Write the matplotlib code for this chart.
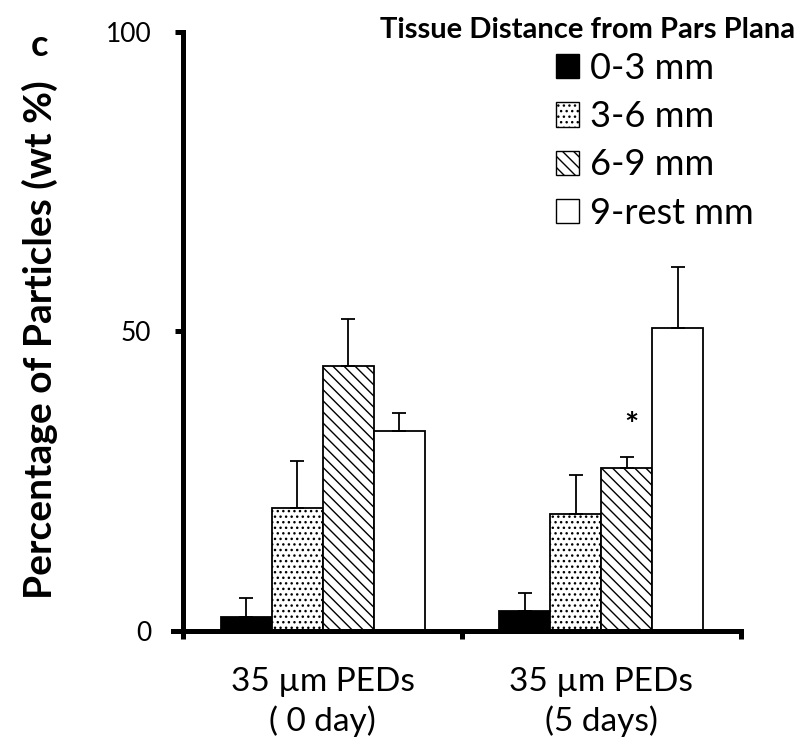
import matplotlib
matplotlib.use("Agg")
import matplotlib.pyplot as plt
from matplotlib.patches import Patch
import numpy as np

plt.rcParams['font.family'] = ['Lato', 'DejaVu Sans']
plt.rcParams['hatch.linewidth'] = 1.0

categories = ["35 \u00b5m PEDs\n( 0 day)", "35 \u00b5m PEDs\n(5 days)"]
series = ["0-3 mm", "3-6 mm", "6-9 mm", "9-rest mm"]
values = {
    "0-3 mm": [2.3, 3.3],
    "3-6 mm": [20.5, 19.5],
    "6-9 mm": [44.2, 27.2],
    "9-rest mm": [33.4, 50.6],
}
errors = {
    "0-3 mm": [3.2, 3.0],
    "3-6 mm": [7.9, 6.5],
    "6-9 mm": [7.8, 1.8],
    "9-rest mm": [3.0, 10.2],
}
yticks = [0, 50, 100]

colors = {"0-3 mm": "black", "3-6 mm": "white", "6-9 mm": "white", "9-rest mm": "white"}
hatches = {"0-3 mm": None, "3-6 mm": "...", "6-9 mm": "\\\\\\", "9-rest mm": None}

fig = plt.figure(figsize=(8, 7.55), dpi=100)
ax = fig.add_axes([0.229, 0.164, 0.697, 0.794])

x = np.arange(len(categories))
w = 0.183
for i, s in enumerate(series):
    pos = x + (i - 1.5) * w
    ax.bar(pos, values[s], width=w, color=colors[s], edgecolor="black",
           linewidth=1.3, hatch=hatches[s], zorder=2)
    ax.errorbar(pos, values[s], yerr=[np.zeros(len(x)), errors[s]], fmt="none",
                ecolor="black", elinewidth=1.3, capsize=5, capthick=1.3, zorder=3)

# significance marker
ax.text(1 + 0.5 * w + 0.015, 34.2, "*", ha="center", va="center", fontsize=24, fontweight="bold")

ax.set_xlim(-0.5, 1.5)
ax.set_ylim(0, 100)
for sp in ["top", "right"]:
    ax.spines[sp].set_visible(False)
for sp in ["left", "bottom"]:
    ax.spines[sp].set_linewidth(3.6)
ax.spines["bottom"].set_bounds(-0.535, 1.5)

ax.set_yticks(yticks)
ax.set_yticklabels([str(t) for t in yticks], fontsize=19)
ax.tick_params(axis="y", direction="out", length=6, width=3.6, pad=17)

ax.set_xticks([-0.5, 0.5, 1.5])
ax.set_xticklabels([])
ax.tick_params(axis="x", which="major", direction="out", length=6, width=3.6)
ax.set_xticks(x, minor=True)
ax.set_xticklabels(categories, minor=True, fontsize=24, linespacing=1.3)
ax.tick_params(axis="x", which="minor", length=0, pad=26)

fig.text(40 / 800, 1 - 340 / 755, "Percentage of Particles (wt %)", rotation=90,
         ha="center", va="center", fontsize=28, fontweight="bold")
fig.text(40 / 800, 1 - 45 / 755, "c", ha="center", va="center", fontsize=26, fontweight="bold")
fig.text(795 / 800, 1 - 30 / 755, "Tissue Distance from Pars Plana", ha="right", va="center",
         fontsize=21, fontweight="bold")

handles = [Patch(facecolor=colors[s], edgecolor="black", hatch=hatches[s], linewidth=1.0, label=s)
           for s in series]
leg = fig.legend(handles=handles, loc="upper left", bbox_to_anchor=(556 / 800, 1 - 52 / 755),
                 frameon=False, fontsize=26, handlelength=0.65, handleheight=0.65,
                 handletextpad=0.3, labelspacing=0.42, borderaxespad=0, borderpad=0)

fig.savefig("out.png", dpi=100)
